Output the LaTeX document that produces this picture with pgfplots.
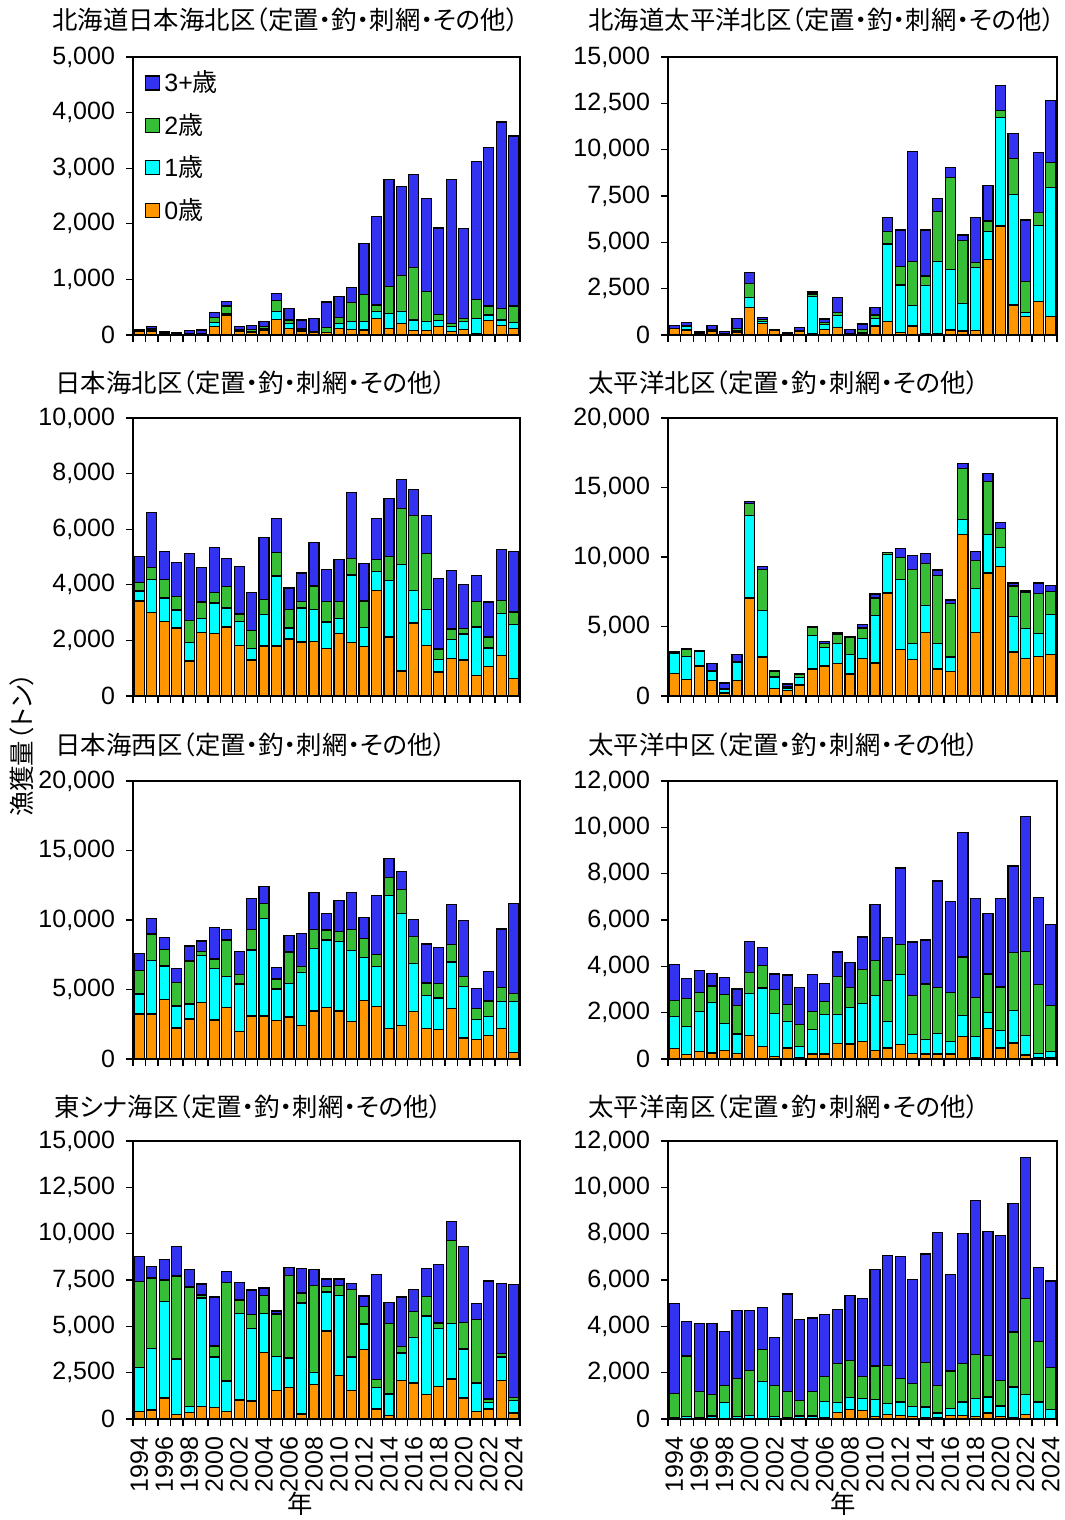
\documentclass[border=0pt]{standalone}
\usepackage{pgfplots}
\usepackage{pgfplotstable}
\pgfplotsset{compat=1.18}
\usepackage{fontspec}
\setmainfont{Liberation Sans}
\newfontfamily\jp{Noto Sans CJK JP}[RawFeature={+palt}]
\definecolor{cOr}{RGB}{255,150,0}
\definecolor{cCy}{RGB}{0,255,255}
\definecolor{cGr}{RGB}{55,190,55}
\definecolor{cBl}{RGB}{50,50,240}
\newcommand{\tf}{\fontsize{12.5}{14}\selectfont}

\pgfplotstableread{
o c g b
60 10 10 20
60 30 25 35
20 10 10 20
15 10 5 20
10 5 5 60
10 5 10 65
160 60 100 80
360 30 130 80
60 20 25 45
40 30 30 75
90 30 30 90
280 140 200 125
120 90 60 205
60 30 30 150
40 10 10 230
40 10 80 465
120 80 120 370
100 138 348 264
90 150 492 912
300 120 120 1590
120 270 480 1930
200 220 650 1600
80 190 940 1675
80 160 540 1670
150 110 115 1550
60 90 50 2600
100 140 60 1620
20 280 340 2480
260 100 160 2850
175 95 210 3350
120 100 300 3060
}\Pa
\pgfplotstableread{
o c g b
330 20 20 150
270 215 40 160
90 10 10 70
180 36 50 250
50 10 10 110
125 90 140 520
1480 540 770 580
600 125 125 100
250 10 10 40
55 10 10 50
200 20 20 160
90 1980 144 108
306 270 90 200
396 648 180 790
40 20 40 200
90 36 180 288
486 414 180 414
720 4194 666 756
126 2574 990 1980
486 1098 2376 5940
90 2574 522 2484
54 3906 2700 720
270 3276 4968 522
216 1494 3384 306
234 3420 270 2412
4086 1494 576 1890
5886 5850 360 1368
1620 5976 1908 1368
990 216 1674 3330
1800 4104 720 3222
990 6984 1332 3330
}\Pb
\pgfplotstableread{
o c g b
3420 360 300 924
3000 1200 420 1968
2676 852 672 996
2448 648 480 1224
1260 660 804 2400
2292 492 600 1248
2256 1092 384 1608
2484 684 780 1008
1824 852 276 1704
1296 420 636 1380
1800 1128 552 2232
1800 2520 852 1224
2052 396 672 768
1944 1224 240 1020
1956 1152 852 1572
1716 948 732 1152
2244 552 600 1500
1920 2436 588 2376
1788 672 960 1344
3804 684 420 1488
2124 2028 876 2076
900 3828 2004 1068
2628 1176 2676 960
1824 1284 2028 1368
864 456 372 2532
1356 672 384 2100
1296 936 204 1584
744 1740 912 948
1056 672 396 1260
1452 1512 480 1836
624 1944 456 2160
}\Pc
\pgfplotstableread{
o c g b
1608 1488 48 48
1176 1680 480 48
2160 1032 24 24
1104 672 72 480
216 240 72 408
1128 1296 48 504
7056 5952 840 120
2808 3336 2952 216
528 840 384 72
408 168 120 168
792 528 216 96
1944 2424 552 48
2160 1344 288 144
2328 1464 672 72
1584 1416 1224 48
2688 1464 744 264
2376 3432 1248 288
7416 2736 144 48
3336 5040 1584 648
2640 1152 5328 960
4584 1944 3000 720
1944 1824 4920 384
1776 1032 3840 264
11640 1056 3672 336
4560 3168 2040 600
8856 2784 3768 576
9312 1392 1344 456
3168 2568 2184 216
2688 2160 2640 120
2856 1632 2904 744
3000 2856 1680 408
}\Pd
\pgfplotstableread{
o c g b
3240 1440 1704 1224
3240 3840 1920 1104
4272 2424 1200 864
2232 1584 1680 1008
2880 1080 3096 1080
4056 3384 288 768
2808 3720 672 2256
3696 2232 2640 768
1968 3432 672 1656
3096 4752 1488 2184
3096 6984 1080 1248
2784 2256 720 840
3024 2424 2256 1200
2400 3840 432 2352
3456 4512 1344 2664
3720 4848 720 1152
3456 4992 744 2184
2712 5112 1488 2664
4200 3096 1392 1488
3768 2904 864 4200
2208 9528 1320 1344
2424 8016 1752 1272
3408 3480 1920 1200
2208 2352 912 2808
2136 2256 1032 2592
3624 3360 1272 2880
1512 3696 720 4032
1392 1464 792 1440
1704 1344 1128 2136
2184 1968 984 4224
480 3672 576 6480
}\Pe
\pgfplotstableread{
o c g b
462 1386 679 1545
202 1213 1199 852
318 1718 823 967
260 2166 722 534
361 1170 1242 736
245 838 1242 693
1025 1805 895 1343
534 2527 982 780
116 1848 1040 664
477 1155 708 1285
43 491 939 1603
217 1040 794 1588
217 1690 578 765
664 1271 1632 1054
650 1560 866 1083
765 1617 1487 1401
361 2397 1487 2412
477 1141 1762 1877
621 3018 1314 3292
231 823 1675 2325
217 621 2397 1906
217 881 1978 4606
217 534 2108 3942
982 895 2527 5357
72 910 1675 4274
1328 664 1675 2599
477 765 1863 3827
693 1401 2513 3725
173 852 3624 5819
43 202 2960 3783
43 289 1978 3509
}\Pf
\pgfplotstableread{
o c g b
396 2394 4644 1350
486 3330 3798 630
1134 5220 1152 1080
252 2988 4482 1584
360 306 6462 936
684 5850 162 594
630 2718 594 2646
396 1656 5310 576
1026 4680 720 954
972 3906 774 1314
3600 2106 972 396
1548 1836 2286 162
1710 1584 4446 414
270 5994 540 1296
1872 648 4698 828
4752 2106 288 414
2358 4320 522 360
1530 1818 3636 342
3744 1386 954 558
540 1170 432 5652
180 1170 3816 1134
2088 1476 360 2664
1944 2448 1422 1170
1314 4248 1062 1476
1764 3132 288 3150
2160 2988 4482 1008
1134 2646 1422 4122
396 1548 3420 882
540 360 180 6372
2070 1278 180 3780
324 684 144 6102
}\Pg
\pgfplotstableread{
o c g b
43 14 1037 3902
14 101 2606 1498
14 29 1138 2938
14 115 936 3053
14 691 749 2318
14 86 1656 2938
14 144 1930 2592
14 1613 1368 1814
14 86 1339 2088
43 29 1123 4205
14 115 677 3485
14 115 1066 3168
72 691 1080 2664
274 432 1685 2333
403 533 1598 2808
374 504 965 3355
115 734 1440 4162
187 475 1656 4752
158 576 1008 5256
115 432 979 4493
43 475 1915 4694
43 216 1195 6610
158 288 1627 4162
158 576 1656 5602
115 763 1901 6638
259 691 1786 5371
115 446 1109 6235
72 1310 2376 5544
187 878 4133 6091
14 720 2621 3197
14 403 1800 3744
}\Ph

\pgfplotsset{
  panel/.style={
    scale only axis, width=193.5pt, height=139pt, anchor=north west,
    ybar stacked, bar width=0.8,
    xmin=-0.5, xmax=30.5, ymin=0,
    xtick={-0.5,0.5,...,30.5}, xticklabels={},
    tick align=outside, xtick pos=bottom, ytick pos=left,
    major tick length=3.5pt,
    axis line style={line width=0.6pt},
    every tick/.style={black, line width=0.6pt},
    scaled y ticks=false,
    /pgf/number format/.cd, 1000 sep={,}, assume math mode=true, /pgfplots/.cd,
    ticklabel style={font=\tf},
    yticklabel style={xshift=-2pt},
    legend image code/.code={\draw[#1,draw=black,line width=0.6pt] (0pt,-3.5pt) rectangle (7pt,3.5pt);},
  },
  years/.style={
    extra x ticks={0,2,...,30},
    extra x tick labels={1994,1996,1998,2000,2002,2004,2006,2008,2010,2012,2014,2016,2018,2020,2022,2024},
    extra x tick style={major tick length=0pt, xticklabel style={rotate=90, anchor=east, font=\tf, inner xsep=8.5pt}},
  },
  sO/.style={fill=cOr, draw=black, line width=0.6pt},
  sC/.style={fill=cCy, draw=black, line width=0.6pt},
  sG/.style={fill=cGr, draw=black, line width=0.6pt},
  sB/.style={fill=cBl, draw=black, line width=0.6pt},
}
\newcommand{\bars}[1]{%
  \addplot[sO] table[x expr=\coordindex, y=o] {#1};
  \addplot[sC] table[x expr=\coordindex, y=c] {#1};
  \addplot[sG] table[x expr=\coordindex, y=g] {#1};
  \addplot[sB] table[x expr=\coordindex, y=b] {#1};
}

\begin{document}
\begin{tikzpicture}
\useasboundingbox (0pt,0pt) rectangle (532.5pt,-760pt);

\begin{axis}[panel, at={(66.5pt,-28.5pt)}, ymax=5000, ytick={0,1000,...,5000},
  reverse legend,
  legend style={at={(0.015,0.98)}, anchor=north west, draw=none, fill=none, font=\tf,
    row sep=5.2pt, /tikz/every even column/.append style={column sep=2pt}},
  legend cell align=left]
\bars{\Pa}
\addlegendentry{0{\jp 歳}}
\addlegendentry{1{\jp 歳}}
\addlegendentry{2{\jp 歳}}
\addlegendentry{3+{\jp 歳}}
\end{axis}

\begin{axis}[panel, at={(334pt,-28.5pt)}, width=194.5pt, ymax=15000, ytick={0,2500,...,15000}]
\bars{\Pb}
\end{axis}

\begin{axis}[panel, at={(66.5pt,-209pt)}, ymax=10000, ytick={0,2000,...,10000}]
\bars{\Pc}
\end{axis}

\begin{axis}[panel, at={(334pt,-209pt)}, width=194.5pt, ymax=20000, ytick={0,5000,...,20000}]
\bars{\Pd}
\end{axis}

\begin{axis}[panel, at={(66.5pt,-390.5pt)}, ymax=20000, ytick={0,5000,...,20000}]
\bars{\Pe}
\end{axis}

\begin{axis}[panel, at={(334pt,-390.5pt)}, width=194.5pt, ymax=12000, ytick={0,2000,...,12000}]
\bars{\Pf}
\end{axis}

\begin{axis}[panel, years, at={(66.5pt,-570.5pt)}, ymax=15000, ytick={0,2500,...,15000}]
\bars{\Pg}
\end{axis}

\begin{axis}[panel, years, at={(334pt,-570.5pt)}, width=194.5pt, ymax=12000, ytick={0,2000,...,12000}]
\bars{\Ph}
\end{axis}

\begin{scope}[every node/.style={inner sep=0pt, font=\fontsize{12.7}{14}\selectfont\jp}]
\node[anchor=west] at (26pt,-10pt) {北海道日本海北区（定置・釣・刺網・その他）};
\node[anchor=west] at (294pt,-10pt) {北海道太平洋北区（定置・釣・刺網・その他）};
\node[anchor=west] at (27.5pt,-191.5pt) {日本海北区（定置・釣・刺網・その他）};
\node[anchor=west] at (294pt,-191.5pt) {太平洋北区（定置・釣・刺網・その他）};
\node[anchor=west] at (27.5pt,-372.5pt) {日本海西区（定置・釣・刺網・その他）};
\node[anchor=west] at (294pt,-372.5pt) {太平洋中区（定置・釣・刺網・その他）};
\node[anchor=west] at (27pt,-553.5pt) {東シナ海区（定置・釣・刺網・その他）};
\node[anchor=west] at (294pt,-553.5pt) {太平洋南区（定置・釣・刺網・その他）};
\node[rotate=90] at (11pt,-372.5pt) {漁獲量（トン）};
\node at (150pt,-752pt) {年};
\node at (421.5pt,-752pt) {年};
\end{scope}
\end{tikzpicture}
\end{document}
